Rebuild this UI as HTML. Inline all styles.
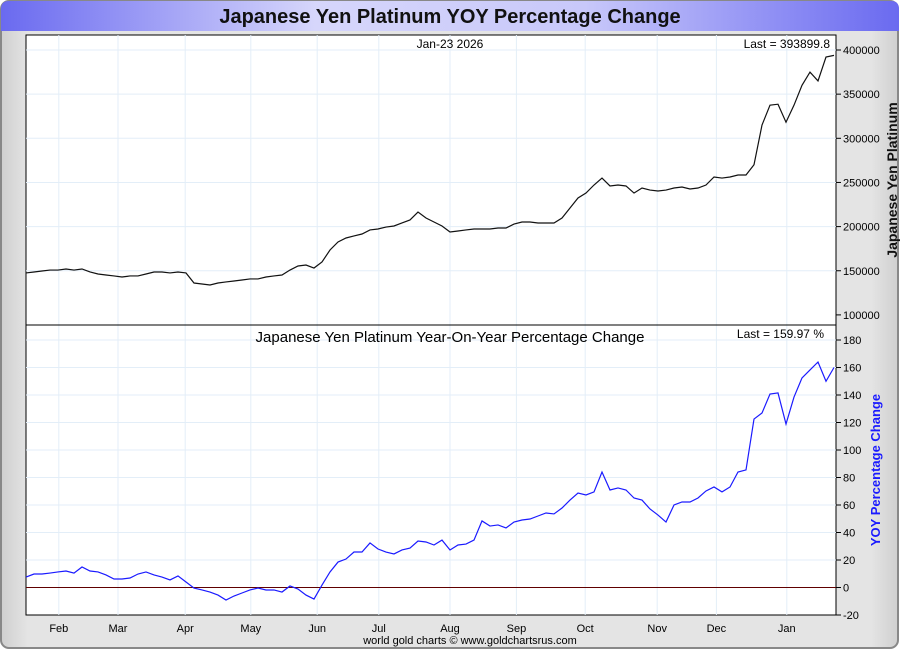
<!DOCTYPE html>
<html><head><meta charset="utf-8">
<style>
body{margin:0;background:#fff;}
#wrap{position:relative;width:900px;height:650px;font-family:"Liberation Sans",sans-serif;}
</style></head>
<body>
<div id="wrap">
<svg id="svg" width="900" height="650" xmlns="http://www.w3.org/2000/svg">
<defs>
<linearGradient id="tg" x1="0" x2="1" y1="0" y2="0">
<stop offset="0" stop-color="#6a6af0"/><stop offset="0.35" stop-color="#d6d6fb"/><stop offset="0.65" stop-color="#c8c8fa"/><stop offset="1" stop-color="#6a6af0"/>
</linearGradient>
<linearGradient id="bg" x1="0" x2="1" y1="0" y2="0">
<stop offset="0" stop-color="#cfcfcf"/><stop offset="0.03" stop-color="#e4e4e4"/><stop offset="0.97" stop-color="#e4e4e4"/><stop offset="1" stop-color="#cfcfcf"/>
</linearGradient>
</defs>
<rect x="1" y="1" width="897" height="647" rx="8" fill="url(#bg)" stroke="#888" stroke-width="2"/>
<path d="M1,31 L1,9 Q1,1 9,1 L891,1 Q899,1 899,9 L899,31 Z" fill="url(#tg)"/>
<text x="450" y="23" text-anchor="middle" font-size="20" font-weight="bold" fill="#111">Japanese Yen Platinum YOY Percentage Change</text>
<rect x="26" y="35" width="810" height="580" fill="#fff" stroke="#000" stroke-width="1"/>
<g id="grid"></g>
<g id="marks"></g>
<line x1="26" y1="325" x2="836" y2="325" stroke="#000"/>
<text x="450" y="48" text-anchor="middle" font-size="12">Jan-23  2026</text>
<text x="830" y="48" text-anchor="end" font-size="12">Last = 393899.8</text>
<text x="450" y="342" text-anchor="middle" font-size="15">Japanese Yen Platinum Year-On-Year Percentage Change</text>
<text x="824" y="338" text-anchor="end" font-size="12">Last = 159.97 %</text>
<text transform="translate(897,180) rotate(-90)" text-anchor="middle" font-size="14" font-weight="bold" fill="#111">Japanese Yen Platinum</text>
<text transform="translate(880,470) rotate(-90)" text-anchor="middle" font-size="13" font-weight="bold" fill="#1a1aff">YOY Percentage Change</text>
<text x="470" y="644" text-anchor="middle" font-size="11">world gold charts © www.goldchartsrus.com</text>
</svg>
</div>
<script>
const months = ["Feb","Mar","Apr","May","Jun","Jul","Aug","Sep","Oct","Nov","Dec","Jan"];
const monthDayIdx = [4.1,11.5,19.9,28.1,36.4,44.1,53.0,61.3,69.9,78.9,86.3,95.1];
const topTicks = [100000,150000,200000,250000,300000,350000,400000];
const botTicks = [-20,0,20,40,60,80,100,120,140,160,180];
const priceK = [147.5,148.6,149.7,150.8,150.8,152.0,150.8,152.0,148.6,146.3,145.2,144.1,142.9,144.1,144.1,146.3,148.6,148.6,147.5,148.6,147.5,136.1,135.0,133.9,136.1,137.3,138.4,139.5,140.7,140.7,142.9,144.1,145.2,150.8,155.4,156.5,153.1,159.9,173.5,182.6,187.1,189.4,191.6,196.2,197.3,199.5,200.7,204.1,207.5,216.5,209.7,205.2,200.7,193.9,195.0,196.2,197.3,197.3,197.3,198.4,198.4,202.9,205.2,205.2,204.1,204.1,204.1,209.7,221.1,232.4,238.0,247.1,255.0,246.0,247.1,246.0,238.0,243.7,241.4,240.3,241.4,243.7,244.8,242.6,243.7,247.1,256.2,255.0,256.2,258.4,258.4,270.0,315.0,337.5,338.6,318.2,337.5,360.0,375.0,365.0,392.0,393.9];
const yoy = [7.6,9.8,9.8,10.5,11.3,12.0,10.5,14.9,12.0,11.3,9.1,6.2,6.2,6.9,9.8,11.3,9.1,7.6,5.5,8.4,4.0,-0.4,-1.8,-3.3,-5.5,-9.1,-6.2,-4.0,-1.8,-0.4,-1.8,-1.8,-3.3,1.1,-1.1,-5.5,-8.4,1.8,11.3,18.5,20.7,25.8,25.8,32.4,28.0,25.8,24.4,27.3,28.7,33.8,33.1,30.9,34.5,27.3,30.9,31.6,34.5,48.4,44.7,45.5,43.3,47.6,49.1,49.8,52.0,54.2,53.5,57.8,63.6,68.7,67.3,69.5,84.0,70.9,72.4,70.9,65.1,63.6,57.1,52.7,47.6,60.0,62.2,62.2,65.1,70.2,73.1,69.5,73.1,84.0,85.5,122.5,126.9,140.7,141.5,118.9,138.5,152.4,158.2,164.0,150.0,160.0];

const NS="http://www.w3.org/2000/svg";
const X0=26, X1=834;
const n = priceK.length;
function xScale(i){return X0+(X1-X0)*i/101;}
function yTop(v){return 50+(400000-v)/100000*88.3;}
function yBot(v){return 587.5-v*1.375;}
function mk(tag,attrs,parent){const e=document.createElementNS(NS,tag);for(const k in attrs)e.setAttribute(k,attrs[k]);parent.appendChild(e);return e;}
const grid=document.getElementById('grid'), marks=document.getElementById('marks'), svg=document.getElementById('svg');

months.forEach((m,i)=>{
  const x=xScale(monthDayIdx[i]);
  const gl=mk('line',{x1:x,x2:x,y1:35,y2:615,stroke:'#e3eef8','stroke-width':1},grid);
  
  
  const t=mk('text',{x:x,y:632,'text-anchor':'middle','font-size':11},svg);
  t.textContent=m;
  
  
});
topTicks.forEach(v=>{
  const y=yTop(v);
  if(v>100000){const g=mk('line',{x1:26,x2:836,y1:y,y2:y,stroke:'#e3eef8'},grid);
  
  }
  mk('line',{x1:836,x2:841,y1:y,y2:y,stroke:'#000'},svg);
  const t=mk('text',{x:843,y:y+4,'font-size':11},svg);
  t.textContent=v;
  
  
});
botTicks.forEach(v=>{
  const y=yBot(v);
  if(v>-20&&v!==0){const g=mk('line',{x1:26,x2:836,y1:y,y2:y,stroke:'#e3eef8'},grid);
  
  }
  mk('line',{x1:836,x2:841,y1:y,y2:y,stroke:'#000'},svg);
  const t=mk('text',{x:843,y:y+4,'font-size':11},svg);
  t.textContent=v;
  
  
});
const zl=mk('line',{x1:26,x2:836,y1:yBot(0),y2:yBot(0),stroke:'#600000','stroke-width':1},marks);


const p1=mk('polyline',{points:priceK.map((v,i)=>xScale(i)+','+yTop(v*1000)).join(' '),fill:'none',stroke:'#111','stroke-width':1.2},marks);


const p2=mk('polyline',{points:yoy.map((v,i)=>xScale(i)+','+yBot(v)).join(' '),fill:'none',stroke:'#1a1aff','stroke-width':1.2},marks);


</script>
</body></html>
